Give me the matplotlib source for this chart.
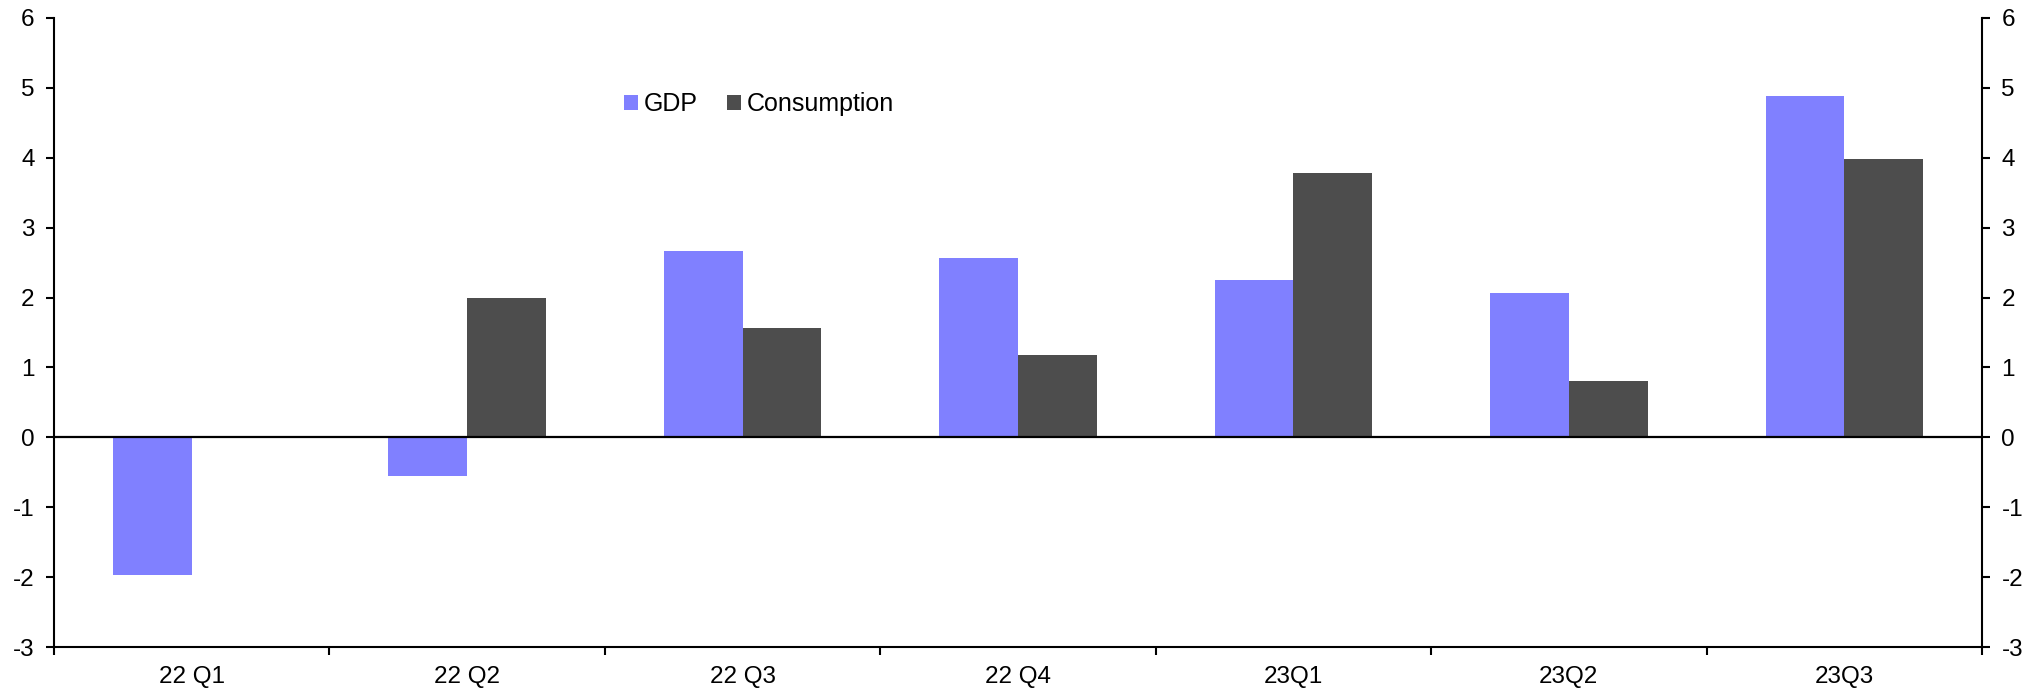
import numpy as np
import matplotlib.pyplot as plt

plt.rcParams['font.family'] = ['Liberation Sans', 'DejaVu Sans']
plt.rcParams['axes.unicode_minus'] = False

quarters = ['22 Q1', '22 Q2', '22 Q3', '22 Q4', '23Q1', '23Q2', '23Q3']
gdp = [-1.97, -0.55, 2.67, 2.57, 2.25, 2.07, 4.89]
consumption = [np.nan, 1.99, 1.57, 1.18, 3.78, 0.81, 3.98]

gdp_colour = '#8080FF'
cons_colour = '#4D4D4D'

fig = plt.figure(figsize=(20.31, 6.98), dpi=100)
ax = fig.add_axes([54 / 2031, 1 - 647 / 698, (1982 - 54) / 2031, (647 - 18) / 698])

x = np.arange(len(quarters))
w = 1 / 3.5
ax.bar(x - w / 2, gdp, w, color=gdp_colour, label='GDP', zorder=2)
ax.bar(x + w / 2, consumption, w, color=cons_colour, label='Consumption', zorder=2)

# zero line
ax.axhline(0, color='black', lw=1.6, zorder=3)

ax.set_xlim(-0.5, len(quarters) - 0.5)
ax.set_ylim(-3, 6)
ax.set_yticks(range(-3, 7))

# category labels in the middle, ticks on the boundaries
ax.set_xticks(x)
ax.set_xticklabels(quarters, fontsize=17.5)
ax.set_xticks(np.arange(-0.5, len(quarters)), minor=True)
ax.tick_params(axis='x', which='major', length=0, pad=14)
ax.tick_params(axis='x', which='minor', length=6, width=1.5, direction='out')

ax.tick_params(axis='y', which='major', length=6, width=1.5, direction='out',
               labelsize=17.5, left=True, right=True, labelleft=True, labelright=True, pad=8)

for side in ['left', 'right', 'bottom']:
    ax.spines[side].set_linewidth(1.5)
    ax.spines[side].set_color('black')
ax.spines['top'].set_visible(False)

ax.legend(loc='center left', bbox_to_anchor=(624 / 2031, 1 - 104 / 698),
          bbox_transform=fig.transFigure, ncol=2, frameon=False, fontsize=18,
          handlelength=0.55, handleheight=0.55, handletextpad=0.25,
          columnspacing=1.15, borderaxespad=0, borderpad=0)

fig.savefig('out.png', dpi=100)
